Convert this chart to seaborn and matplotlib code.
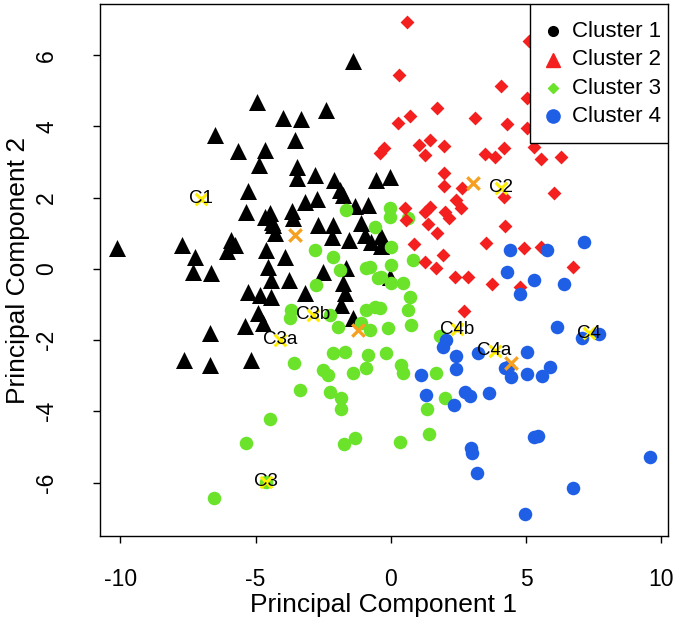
import numpy as np
import pandas as pd
import seaborn as sns
import matplotlib.pyplot as plt
from matplotlib.patches import Rectangle

# Cluster 1 (black triangles)
c1_x = [-10.11, -7.71, -7.23, -7.31, -6.64, -5.90, -5.76, -6.05, -6.68, -7.64, -6.68, -5.17,
        -5.35, -4.65, -4.46, -4.35, -4.28, -3.65, -3.62, -4.61, -3.91, -4.54, -4.43, -3.76,
        -5.28, -4.83, -4.43, -4.91, -5.39, -4.72, -4.94, -3.99, -6.49, -5.65, -4.65, -4.87,
        -3.54, -3.47, -3.47, -5.28, -1.40, -3.32, -2.40, -2.80, -2.10, -1.88, -1.77, -0.55,
        -0.04, -3.17, -2.73, -1.33, -0.85, -4.39, -2.69, -2.14, -2.18, -1.55, -1.11, -0.96,
        -0.74, -0.37, -0.37, -2.51, -1.66, -1.77, -3.17, -1.70, -1.85, -0.04, -1.40]
c1_y = [0.59, 0.67, 0.34, -0.08, -0.11, 0.81, 0.67, 0.51, -1.80, -2.56, -2.70, -2.56,
        1.60, 1.46, 1.57, 1.24, 1.01, 1.63, 1.43, 0.53, 0.34, 0.06, -0.31, -0.31,
        -0.65, -0.73, -0.79, -1.24, -1.60, -1.52, 4.69, 4.24, 3.76, 3.31, 3.34, 2.92,
        3.62, 2.87, 2.56, 2.19, 5.84, 4.21, 4.47, 2.64, 2.50, 2.22, 2.08, 2.50,
        2.58, 1.88, 1.97, 1.77, 1.80, 1.32, 1.24, 1.24, 0.90, 0.81, 1.29, 0.96,
        0.76, 0.93, 0.65, -0.08, 0.03, -0.39, -0.67, -0.67, -1.01, -0.22, -1.38]

# Cluster 2 (red diamonds)
c2_x = [0.59, 0.30, 5.10, 1.70, 0.70, 0.26, 3.10, -0.26, -0.41, 1.03, 1.44, 1.96, 1.25,
        1.96, 1.96, 2.62, 2.40, 2.58, 0.52, 1.25, 1.44, 1.99, 0.55, 4.06, 5.05, 4.28,
        5.05, 4.17, 5.31, 3.47, 3.87, 5.57, 6.31, 4.17, 6.05, 2.14, 1.37, 1.70, 4.21,
        0.85, 3.51, 4.94, 5.54, 1.92, 1.25, 1.66, 6.72, 2.36, 2.84, 3.73, 4.76, 2.69]
c2_y = [6.94, 5.45, 6.40, 4.52, 4.30, 4.10, 4.24, 3.40, 3.26, 3.48, 3.62, 3.46, 3.20,
        2.70, 2.33, 2.28, 1.94, 1.71, 1.71, 1.60, 1.74, 1.60, 1.38, 5.14, 4.80, 4.07,
        3.96, 3.40, 3.43, 3.23, 3.15, 3.09, 3.15, 2.02, 2.13, 1.43, 1.26, 1.01, 1.21,
        0.70, 0.73, 0.59, 0.62, 0.39, 0.20, 0.03, 0.06, -0.22, -0.22, -0.42, -0.51, -1.18]

# Cluster 3 (green circles)
c3_x = [-1.66, -0.04, -0.04, 0.63, -0.59, -2.80, -2.14, -1.88, -2.77, -0.77, -0.37, 0.00,
        0.00, 0.44, 0.70, 0.81, 0.00, -0.92, -0.48, -0.59, -3.69, -3.73, -2.25, -0.92,
        -0.41, 0.63, -1.11, -0.77, -1.96, -0.11, 0.74, 1.81, -2.14, -1.70, -0.85, -0.18,
        -3.58, -2.51, -2.32, -1.40, -0.92, 0.37, 0.44, 1.66, -3.36, -2.25, -1.85, -1.85,
        -4.46, -5.35, -1.33, -1.73, -6.53, 1.99, 1.33, 1.40, 0.33, -4.61]
c3_y = [1.66, 1.71, 1.45, 1.43, 1.18, 0.53, 0.34, -0.03, -0.45, 0.06, -0.22, 0.11,
        -0.39, -0.39, -0.79, 0.25, 0.62, 0.03, -0.25, -1.07, -1.15, -1.38, -1.29, -1.15,
        -1.10, -1.15, -1.52, -1.71, -1.63, -1.66, -1.57, -1.88, -2.36, -2.33, -2.42, -2.36,
        -2.64, -2.84, -2.98, -2.92, -2.78, -2.70, -2.92, -2.92, -3.40, -3.46, -3.62, -3.93,
        -4.21, -4.89, -4.75, -4.92, -6.43, -3.62, -3.93, -4.63, -4.86, -5.98]

# Cluster 4 (blue circles)
c4_x = [4.39, 5.79, 7.16, 4.28, 5.31, 6.42, 4.76, 6.13, 7.08, 7.71, 3.21, 5.02, 4.32,
        5.87, 5.02, 5.61, 2.03, 1.92, 2.40, 2.40, 1.11, 4.21, 4.43, 1.29, 2.32, 2.73,
        2.92, 3.65, 5.28, 5.46, 2.95, 2.99, 3.17, 6.72, 4.98, 9.59]
c4_y = [0.53, 0.53, 0.76, -0.08, -0.31, -0.42, -0.70, -1.63, -1.94, -1.83, -2.36, -2.33, -2.75,
        -2.75, -2.95, -3.01, -1.99, -2.19, -2.44, -2.81, -2.98, -2.78, -3.03, -3.54, -3.82, -3.46,
        -3.57, -3.48, -4.72, -4.69, -5.03, -5.17, -5.73, -6.15, -6.88, -5.28]

# cluster centres (orange x)
cent_x = [-3.54, 3.03, -1.22, 4.43]
cent_y = [0.96, 2.42, -1.71, -2.64]

# labelled points (yellow x)
lab_names = ["C1", "C2", "C3", "C3a", "C3b", "C4", "C4a", "C4b"]
lab_x = [-7.01, 4.06, -4.61, -4.10, -2.88, 7.34, 3.84, 2.44]
lab_y = [1.97, 2.28, -5.98, -1.99, -1.29, -1.80, -2.30, -1.70]

legend_labels = ["Cluster 1", "Cluster 2", "Cluster 3", "Cluster 4"]

col_black = "black"
col_red = "#f41f1f"
col_green = "#6ae32a"
col_blue = "#1f5fe6"

sns.set_style("white")
plt.rcParams['font.family'] = ['Liberation Sans', 'DejaVu Sans']
plt.rcParams['text.color'] = 'black'
plt.rcParams['axes.labelcolor'] = 'black'
plt.rcParams['xtick.color'] = 'black'
plt.rcParams['ytick.color'] = 'black'

fig = plt.figure(figsize=(6.8, 6.31), dpi=100)
ax = fig.add_axes([100 / 680, 95 / 631, 568 / 680, 532 / 631])

df1 = pd.DataFrame({"x": c1_x, "y": c1_y})
df2 = pd.DataFrame({"x": c2_x, "y": c2_y})
df3 = pd.DataFrame({"x": c3_x, "y": c3_y})
df4 = pd.DataFrame({"x": c4_x, "y": c4_y})

sns.scatterplot(data=df1, x="x", y="y", marker="^", s=150, color=col_black, linewidth=0, ax=ax, legend=False)
sns.scatterplot(data=df3, x="x", y="y", marker="o", s=95, color=col_green, linewidth=0, ax=ax, legend=False)
sns.scatterplot(data=df2, x="x", y="y", marker="D", s=50, color=col_red, linewidth=0, ax=ax, legend=False)
sns.scatterplot(data=df4, x="x", y="y", marker="o", s=95, color=col_blue, linewidth=0, ax=ax, legend=False)

ax.scatter(lab_x, lab_y, marker="x", s=70, color="#ffee00", linewidths=2.2, zorder=4)
for name, lx, ly in zip(lab_names, lab_x, lab_y):
    ax.text(lx, ly, name, fontsize=13.5, ha="center", va="center", color="black", zorder=5)
ax.scatter(cent_x, cent_y, marker="x", s=80, color="#f5a020", linewidths=2.4, zorder=6)

ax.set_xlim(-10.75, 10.25)
ax.set_ylim(-7.5, 7.44)
ax.set_xticks([-10, -5, 0, 5, 10])
ax.set_xticklabels(["-10", "-5", "0", "5", "10"])
ax.set_yticks([-6, -4, -2, 0, 2, 4, 6])
ax.set_yticklabels(["-6", "-4", "-2", "0", "2", "4", "6"], rotation=90, va="center")
ax.tick_params(axis="both", direction="out", length=5, width=1, color="black",
               labelsize=16.5, bottom=True, left=True)
ax.tick_params(axis="x", pad=18)
ax.tick_params(axis="y", pad=25)
for sp in ax.spines.values():
    sp.set_color("black")
    sp.set_linewidth(1)

ax.set_xlabel("Principal Component 1", fontsize=19)
ax.set_ylabel("Principal Component 2", fontsize=19)
ax.xaxis.set_label_coords(0.5, -0.107)
ax.yaxis.set_label_coords(-0.123, 0.5)

# legend box in the top right corner, drawn in axes coordinates
ax.add_patch(Rectangle((0.757, 0.739), 0.243, 0.261, transform=ax.transAxes,
                       facecolor="white", edgecolor="black", linewidth=1, zorder=10))
leg_y = [0.949, 0.895, 0.842, 0.789]
leg_markers = ["o", "^", "D", "o"]
leg_colors = [col_black, col_red, col_green, col_blue]
leg_sizes = [7, 10, 5.5, 9.5]
for lab, yy, mk, cc, ms in zip(legend_labels, leg_y, leg_markers, leg_colors, leg_sizes):
    ax.plot([0.7975], [yy], marker=mk, color=cc, markersize=ms, linestyle="",
            transform=ax.transAxes, zorder=11, clip_on=False)
    ax.text(0.831, yy, lab, fontsize=16, ha="left", va="center", transform=ax.transAxes, zorder=11)

fig.savefig("out.png", dpi=100)
